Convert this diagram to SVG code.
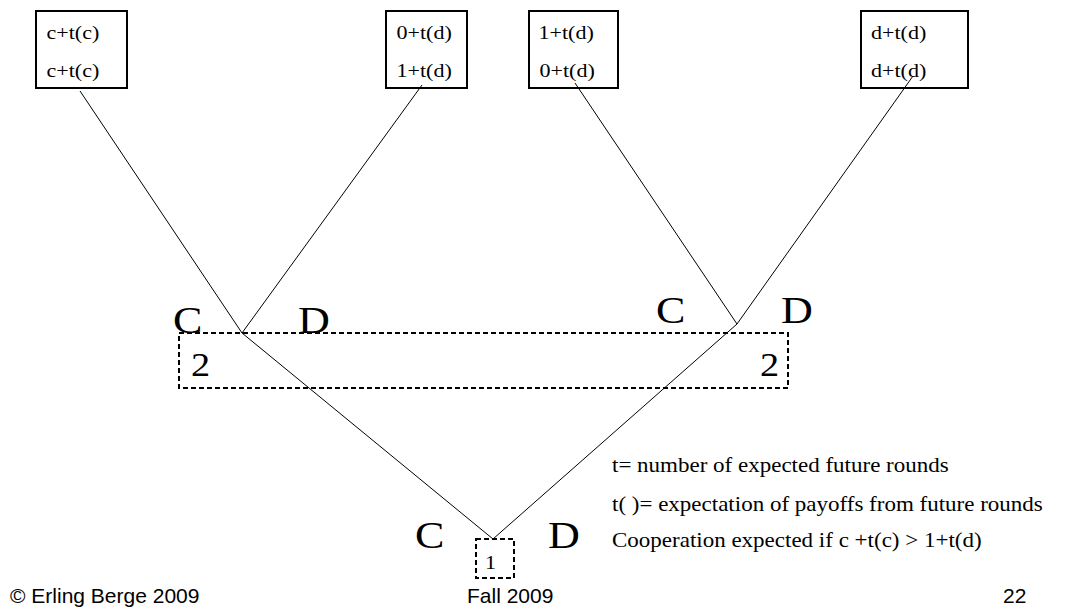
<svg xmlns="http://www.w3.org/2000/svg" width="1066" height="610" viewBox="0 0 1066 610">
<style>
.box{fill:#fff;stroke:#000;stroke-width:2}
.info{fill:none;stroke:#000;stroke-width:2;stroke-dasharray:5 3}
.edge{stroke:#000;stroke-width:1;fill:none}
.t{font-family:"Liberation Serif","Times New Roman",serif;fill:#000}
.s19{font-size:19px}
.s20{font-size:20px}
.s33{font-size:33px}
.s38{font-size:38px}
.foot{font-family:"Liberation Sans",Arial,sans-serif;font-size:21px;fill:#000}
</style>
<rect width="1066" height="610" fill="#fff"/>
<g id="payoff-cc">
<rect class="box" x="36" y="11" width="91" height="77"/>
<text class="t s19" transform="translate(46.5 39) scale(1.16 1)">c+t(c)</text>
<text class="t s19" transform="translate(46.5 77) scale(1.16 1)">c+t(c)</text>
</g>
<g id="payoff-cd">
<rect class="box" x="386" y="11" width="81" height="77"/>
<text class="t s19" transform="translate(396.5 39) scale(1.16 1)">0+t(d)</text>
<text class="t s19" transform="translate(396.5 77) scale(1.16 1)">1+t(d)</text>
</g>
<g id="payoff-dc">
<rect class="box" x="529" y="11" width="89" height="77"/>
<text class="t s19" transform="translate(538.5 39) scale(1.16 1)">1+t(d)</text>
<text class="t s19" transform="translate(539.5 77) scale(1.16 1)">0+t(d)</text>
</g>
<g id="payoff-dd">
<rect class="box" x="861" y="11" width="107" height="77"/>
<text class="t s19" transform="translate(871 39) scale(1.16 1)">d+t(d)</text>
<text class="t s19" transform="translate(871 77) scale(1.16 1)">d+t(d)</text>
</g>
<g id="connectors">
<line class="edge" x1="80" y1="91" x2="242" y2="333"/>
<line class="edge" x1="422" y1="85" x2="242" y2="333"/>
<line class="edge" x1="575" y1="83" x2="737" y2="324"/>
<line class="edge" x1="913" y1="76" x2="737" y2="324"/>
<line class="edge" x1="242" y1="333" x2="493" y2="539"/>
<line class="edge" x1="737" y1="324" x2="493" y2="539"/>
</g>
<g id="player2">
<rect class="info" x="179" y="333" width="609" height="55"/>
<text class="t s33" transform="translate(191 376) scale(1.16 1)">2</text>
<text class="t s33" transform="translate(760 376) scale(1.16 1)">2</text>
<text class="t s38" transform="translate(173 333) scale(1.16 1)">C</text>
<text class="t s38" transform="translate(298 333) scale(1.16 1)">D</text>
<text class="t s38" transform="translate(656 323) scale(1.16 1)">C</text>
<text class="t s38" transform="translate(781 323) scale(1.16 1)">D</text>
</g>
<g id="player1">
<rect class="info" x="476" y="539" width="38" height="39"/>
<text class="t s19" transform="translate(485 569) scale(1.16 1)">1</text>
<text class="t s38" transform="translate(415 548) scale(1.16 1)">C</text>
<text class="t s38" transform="translate(548 548) scale(1.16 1)">D</text>
</g>
<g id="notes">
<text class="t s20" transform="translate(612 472) scale(1.15 1)">t= number of expected future rounds</text>
<text class="t s20" transform="translate(612 511) scale(1.15 1)">t( )= expectation of payoffs from future rounds</text>
<text class="t s20" transform="translate(612 547) scale(1.15 1)">Cooperation expected if c +t(c) &gt; 1+t(d)</text>
</g>
<g id="footer">
<text class="foot" x="10" y="603">© Erling Berge 2009</text>
<text class="foot" x="467" y="603">Fall 2009</text>
<text class="foot" x="1003" y="603">22</text>
</g>
</svg>
